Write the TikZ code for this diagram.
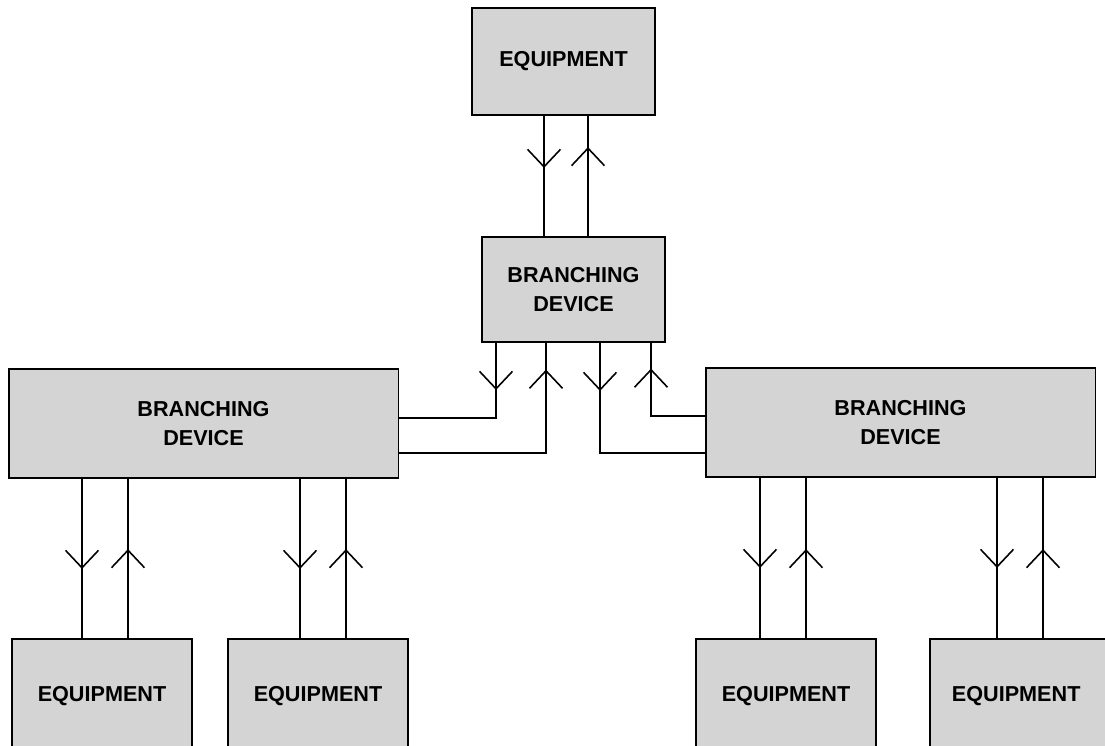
\documentclass[tikz,border=0pt]{standalone}
\usepackage{fontspec}
\setmainfont{Liberation Sans}
\usepackage{tikz}
\usetikzlibrary{arrows.meta, calc, decorations.markings}
\definecolor{boxgray}{RGB}{212,212,212}

\begin{document}
\begin{tikzpicture}[x=0.02cm, y=-0.02cm, line width=1.1pt,
    font=\bfseries\fontsize{12.3}{16}\selectfont,
    box/.style={draw, fill=boxgray, align=center, inner sep=0pt},
    equip/.style={box, minimum width=3.6cm, minimum height=2.3cm},
    branch/.style={box, minimum width=3.66cm, minimum height=2.1cm},
    wbranch/.style={box, minimum width=7.8cm, minimum height=2.18cm},
    wire/.style={line width=1.1pt},
    mid/.style={postaction={decorate}, decoration={markings,
        mark=at position #1 with {\arrow{Straight Barb[length=0.35cm, width=0.66cm, line width=0.9pt]}}}}]

    \useasboundingbox (0,0) rectangle (1105,745);

    \node[equip, minimum width=3.66cm, minimum height=2.14cm] (eqT) at (563.5, 61.5) {EQUIPMENT};
    \node[branch] (bdC) at (573.5, 289.5) {BRANCHING\\DEVICE};
    \node[wbranch] (bdL) at (203.5, 423.5) {BRANCHING\\DEVICE};
    \node[wbranch] (bdR) at (900.5, 422.5) {BRANCHING\\DEVICE};

    \node[equip] (eqA) at (102, 696.5)  {EQUIPMENT};
    \node[equip] (eqB) at (318, 696.5)  {EQUIPMENT};
    \node[equip] (eqC) at (786, 696.5)  {EQUIPMENT};
    \node[equip, minimum width=3.8cm] (eqD) at (1025, 696.5) {\hspace*{-10pt}EQUIPMENT};

    % top equipment <-> centre device
    \draw[wire, mid=1.04cm] ($(eqT.south)+(-19.5,0)$) coordinate (t1) -- (t1 |- bdC.north);
    \draw[wire, mid=1.78cm] ($(bdC.north)+(14.5,0)$) coordinate (t2) -- (t2 |- eqT.south);

    % centre device <-> side devices
    \draw[wire, mid=0.94cm] ($(bdC.south)+(-77.5,0)$) |- ($(bdL.east)+(0,-5.5)$);
    \draw[wire, mid=4.6cm]  ($(bdL.east)+(0,29.5)$) -| ($(bdC.south)+(-27.5,0)$);
    \draw[wire, mid=0.96cm] ($(bdC.south)+(26.5,0)$) |- ($(bdR.west)+(0,30.5)$);
    \draw[wire, mid=2.02cm] ($(bdR.west)+(0,-6.5)$) -| ($(bdC.south)+(77.5,0)$);

    % left device <-> equipment
    \draw[wire, mid=1.8cm]  ($(bdL.south)+(-121.5,0)$) coordinate (a1) -- (a1 |- eqA.north);
    \draw[wire, mid=1.78cm] ($(eqA.north)+(26,0)$) coordinate (a2) -- (a2 |- bdL.south);
    \draw[wire, mid=1.8cm]  ($(bdL.south)+(96.5,0)$) coordinate (b1) -- (b1 |- eqB.north);
    \draw[wire, mid=1.78cm] ($(eqB.north)+(28,0)$) coordinate (b2) -- (b2 |- bdL.south);

    % right device <-> equipment
    \draw[wire, mid=1.8cm]  ($(bdR.south)+(-140.5,0)$) coordinate (c1) -- (c1 |- eqC.north);
    \draw[wire, mid=1.78cm] ($(eqC.north)+(20,0)$) coordinate (c2) -- (c2 |- bdR.south);
    \draw[wire, mid=1.8cm]  ($(bdR.south)+(96.5,0)$) coordinate (d1) -- (d1 |- eqD.north);
    \draw[wire, mid=1.78cm] ($(eqD.north)+(18,0)$) coordinate (d2) -- (d2 |- bdR.south);
\end{tikzpicture}
\end{document}
